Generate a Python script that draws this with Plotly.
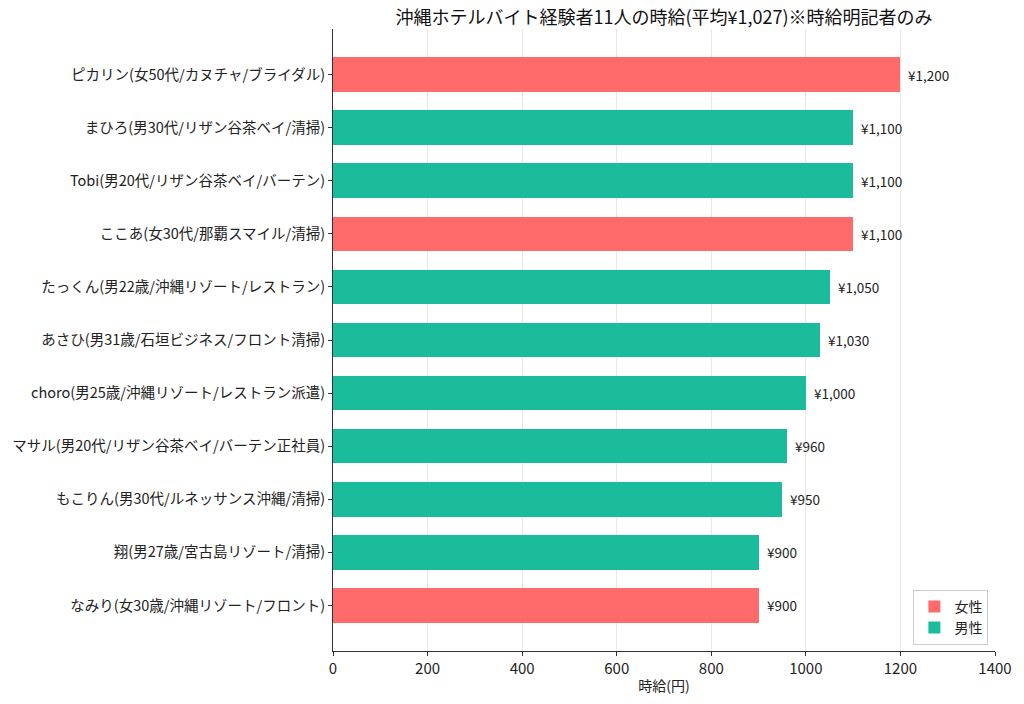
import plotly.graph_objects as go

names = [
    "ピカリン(女50代/カヌチャ/ブライダル)",
    "まひろ(男30代/リザン谷茶ベイ/清掃)",
    "Tobi(男20代/リザン谷茶ベイ/バーテン)",
    "ここあ(女30代/那覇スマイル/清掃)",
    "たっくん(男22歳/沖縄リゾート/レストラン)",
    "あさひ(男31歳/石垣ビジネス/フロント清掃)",
    "choro(男25歳/沖縄リゾート/レストラン派遣)",
    "マサル(男20代/リザン谷茶ベイ/バーテン正社員)",
    "もこりん(男30代/ルネッサンス沖縄/清掃)",
    "翔(男27歳/宮古島リゾート/清掃)",
    "なみり(女30歳/沖縄リゾート/フロント)",
]
wages = [1200, 1100, 1100, 1100, 1050, 1030, 1000, 960, 950, 900, 900]
genders = ["女", "男", "男", "女", "男", "男", "男", "男", "男", "男", "女"]

FONT = "Noto Sans CJK JP"
RED = "#FF6B6B"
GREEN = "#1ABC9C"

order = list(reversed(names))  # bottom to top

fig = go.Figure()
for g, label, color in [("女", "女性", RED), ("男", "男性", GREEN)]:
    ys = [n for n, gg in zip(names, genders) if gg == g]
    xs = [w for w, gg in zip(wages, genders) if gg == g]
    fig.add_trace(go.Bar(
        x=xs, y=ys, orientation="h", name=label,
        marker=dict(color=color, line=dict(width=0)),
        width=0.65,
    ))

for n, w in zip(names, wages):
    fig.add_annotation(x=w, y=n, text=f"¥{w:,}", showarrow=False,
                       xanchor="left", xshift=6, font=dict(size=13.5, color="#222", family=FONT))

fig.update_layout(
    width=1024, height=704,
    margin=dict(l=332, r=27, t=29, b=49),
    paper_bgcolor="white", plot_bgcolor="white",
    font=dict(family=FONT, size=14, color="#222"),
    barmode="overlay",
    title=dict(text="沖縄ホテルバイト経験者11人の時給(平均¥1,027)※時給明記者のみ",
               x=0.5, xref="paper", xanchor="center", y=0.975, yanchor="middle",
               font=dict(size=18, color="#111", family=FONT)),
    xaxis=dict(range=[0, 1400], tickvals=[0, 200, 400, 600, 800, 1000, 1200, 1400],
               showgrid=True, gridcolor="#e8e8e8", gridwidth=1,
               showline=True, linecolor="#333", linewidth=1,
               ticks="outside", ticklen=4, tickcolor="#333",
               tickfont=dict(size=15), zeroline=False,
               title=dict(text="時給(円)", font=dict(size=14), standoff=4)),
    yaxis=dict(type="category", categoryorder="array", categoryarray=order,
               range=[-0.8575, 10.8575], showgrid=False,
               showline=True, linecolor="#333", linewidth=1,
               ticks="outside", ticklen=4, tickcolor="#333",
               tickfont=dict(size=14.5)),
    legend=dict(x=0.99, y=0.01, xanchor="right", yanchor="bottom",
                bgcolor="white", bordercolor="#ccc", borderwidth=1,
                font=dict(size=14), traceorder="normal"),
    bargap=0,
)

fig.write_html("out.html")
